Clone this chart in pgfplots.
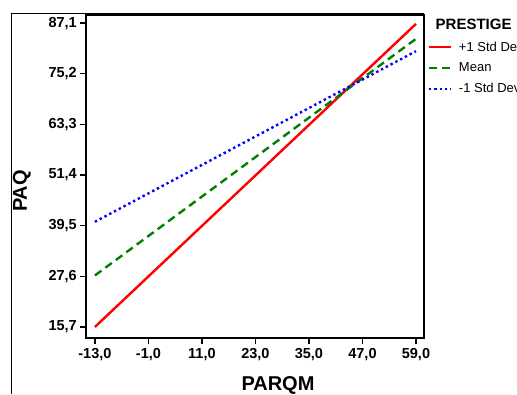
\documentclass[border=0pt]{standalone}
\usepackage{pgfplots}
\pgfplotsset{compat=1.18}
\usepackage{fontspec}
\setmainfont{Liberation Sans}
\definecolor{sred}{RGB}{255,0,0}
\definecolor{sgreen}{RGB}{0,128,0}
\definecolor{sblue}{RGB}{0,0,255}
\begin{document}
\begin{tikzpicture}[x=1pt,y=1pt]
\clip (-86,-56) rectangle (431,338);
\draw[line width=1pt] (-74,-56) -- (-74,324.6) -- (338,324.6);
\begin{axis}[
  at={(0,0)}, anchor=south west,
  scale only axis, width=338pt, height=323pt,
  xmin=-15.0, xmax=60.8, ymin=13.1, ymax=89.0,
  axis line style={line width=1.6pt},
  tick align=outside, major tick length=6pt,
  tick style={line width=1.2pt, black},
  xtick={-13,-1,11,23,35,47,59},
  xticklabels={{-13,0},{-1,0},{11,0},{23,0},{35,0},{47,0},{59,0}},
  ytick={15.7,27.6,39.5,51.4,63.3,75.2,87.1},
  yticklabels={{15,7},{27,6},{39,5},{51,4},{63,3},{75,2},{87,1}},
  xtick pos=bottom, ytick pos=left,
  ticklabel style={font=\fontsize{14.5}{16}\selectfont\bfseries},
  yticklabel style={inner sep=0pt, xshift=-3pt},
  xticklabel style={inner sep=0pt, yshift=-4pt},
  xlabel={PARQM}, ylabel={PAQ},
  label style={font=\fontsize{20}{22}\selectfont\bfseries},
  xlabel style={at={(axis description cs:0.568,-0.161)}, anchor=base},
  ylabel style={at={(axis description cs:-0.175,0.455)}, anchor=base},
  legend style={at={(axis description cs:1.01,0.924)}, anchor=north west,
    draw=none, fill=none, inner sep=0pt,
    font=\fontsize{13}{15}\selectfont, row sep=6.2pt,
    /tikz/every odd column/.append style={column sep=5pt}},
  legend cell align=left,
  legend image code/.code={\draw[#1] (0pt,0pt) -- (22pt,0pt);},
  clip=false,
]
\addplot[sred, line width=2.4pt] coordinates {(-13,15.7) (59,86.9)};
\addlegendentry{+1 Std Dev}
\addplot[sgreen, line width=2.4pt, dash pattern=on 8pt off 5pt] coordinates {(-13,27.8) (59,83.4)};
\addlegendentry{Mean}
\addplot[sblue, line width=2.4pt, dash pattern=on 2.4pt off 3pt] coordinates {(-13,40.4) (59,80.5)};
\addlegendentry{-1 Std Dev}
\node[anchor=base west, font=\fontsize{15}{17}\selectfont\bfseries, inner sep=0pt]
  at (axis description cs:1.034,0.955) {PRESTIGE};
\end{axis}
\end{tikzpicture}
\end{document}
